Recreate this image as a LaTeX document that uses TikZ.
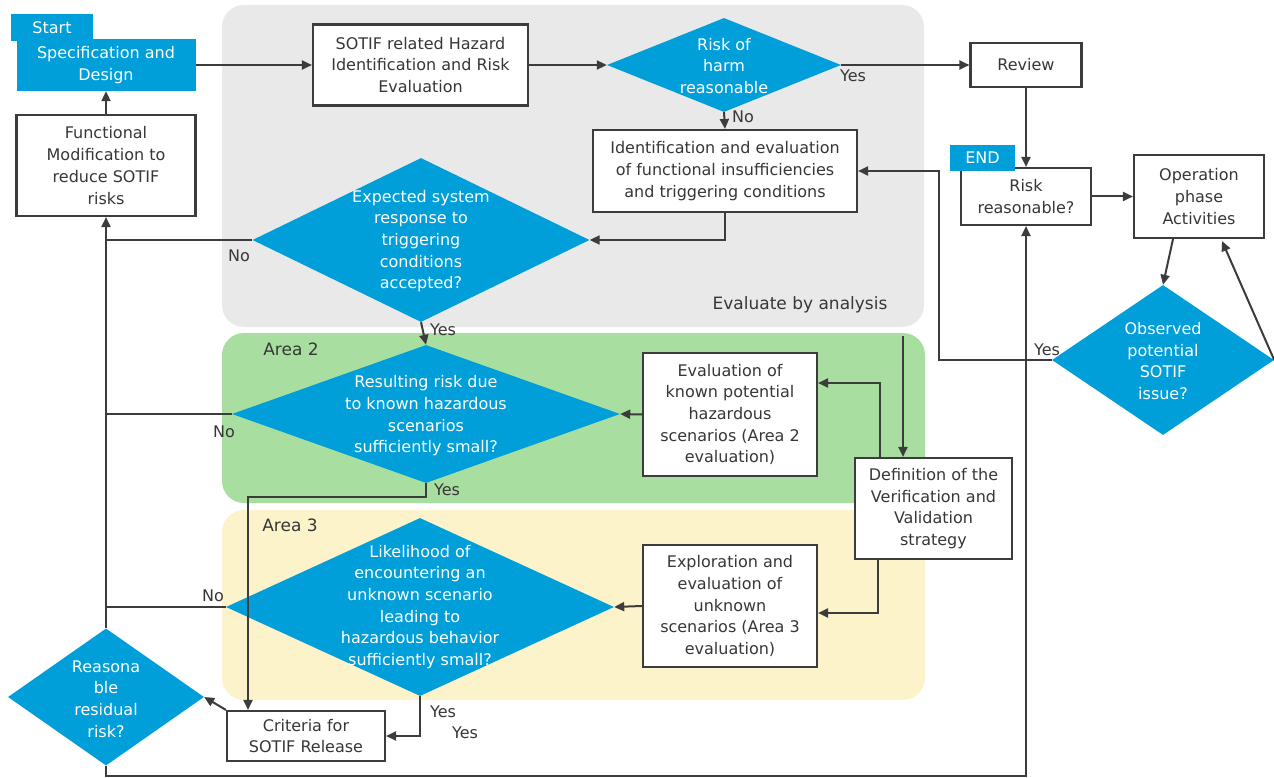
\documentclass[tikz,border=0pt]{standalone}
\usepackage{fontspec}
\setmainfont{DejaVu Sans}
\usetikzlibrary{shapes.geometric,arrows.meta,calc}
\definecolor{sblue}{RGB}{0,159,218}
\definecolor{grayreg}{RGB}{233,233,233}
\definecolor{greenreg}{RGB}{168,222,160}
\definecolor{yellowreg}{RGB}{253,243,203}
\definecolor{linec}{RGB}{60,60,60}
\definecolor{txt}{RGB}{55,55,55}
\newcommand{\bxfont}{\fontsize{16}{21.7}\selectfont}
\newcommand{\lblfont}{\fontsize{17}{21}\selectfont}
\begin{document}
\begin{tikzpicture}[x=1pt,y=-1pt,
 box/.style={draw=linec,line width=2.1pt,fill=white,text=txt,align=center,inner sep=0pt,font=\bxfont},
 bluebox/.style={fill=sblue,text=white,align=center,inner sep=0pt,font=\bxfont},
 dia/.style={diamond,fill=sblue,inner sep=0pt,draw=none},
 dtext/.style={text=white,align=center,font=\bxfont,inner sep=0pt},
 conn/.style={draw=linec,line width=2pt,-{Triangle[length=10pt,width=9pt]}},
 plain/.style={draw=linec,line width=2pt},
 yn/.style={text=txt,font=\bxfont,inner sep=0pt},
 region/.style={rounded corners=22pt},
 arealbl/.style={text=txt,font=\lblfont,inner sep=0pt}]
\useasboundingbox (0,0) rectangle (1274,778);
\fill[white] (0,0) rectangle (1274,778);
% regions
\fill[grayreg,region] (222,5) rectangle (924,327);
\fill[greenreg,region] (222,333) rectangle (925,503);
\fill[yellowreg,region] (222,510) rectangle (925,700);
\node[arealbl] (evalbl) at (800,305) {Evaluate by analysis};
\node[arealbl] (a2lbl) at (291,349) {Area 2};
\node[arealbl] (a3lbl) at (290,525) {Area 3};
% nodes
\node[bluebox,minimum width=82pt,minimum height=27pt] (start) at (52,27.5) {Start};
\node[bluebox,minimum width=179pt,minimum height=52pt] (spec) at (106,65) {Specification and\\Design};
\node[box,minimum width=179pt,minimum height=101pt] (funcmod) at (106,165.5) {Functional\\Modification to\\reduce SOTIF\\risks};
\node[box,minimum width=215pt,minimum height=81pt] (hazard) at (420.5,65) {SOTIF related Hazard\\Identification and Risk\\Evaluation};
\node[dia,minimum width=234pt,minimum height=94pt] (riskd) at (724,65) {};
\node[dtext] (riskdt) at (724,66) {Risk of\\harm\\reasonable};
\node[box,minimum width=111pt,minimum height=44pt] (review) at (1026,65) {Review};
\node[box,minimum width=264pt,minimum height=82pt] (ident) at (725,171) {Identification and evaluation\\of functional insufficiencies\\and triggering conditions};
\node[dia,minimum width=337pt,minimum height=164pt] (expd) at (421,240) {};
\node[dtext] (expdt) at (421,241) {Expected system\\response to\\triggering\\conditions\\accepted?};
\node[dia,minimum width=388pt,minimum height=138pt] (area2d) at (426,414) {};
\node[dtext] (area2dt) at (426,416) {Resulting risk due\\to known hazardous\\scenarios\\sufficiently small?};
\node[box,minimum width=174pt,minimum height=123pt] (evalk) at (730,414.5) {Evaluation of\\known potential\\hazardous\\scenarios (Area 2\\evaluation)};
\node[box,minimum width=157pt,minimum height=101pt] (defvv) at (933.5,508.5) {Definition of the\\Verification and\\Validation\\strategy};
\node[dia,minimum width=388pt,minimum height=178pt] (area3d) at (420,607) {};
\node[dtext] (area3dt) at (420,607) {Likelihood of\\encountering an\\unknown scenario\\leading to\\hazardous behavior\\sufficiently small?};
\node[box,minimum width=174pt,minimum height=122pt] (explore) at (730,606) {Exploration and\\evaluation of\\unknown\\scenarios (Area 3\\evaluation)};
\node[box,minimum width=158pt,minimum height=50pt] (criteria) at (306,736) {Criteria for\\SOTIF Release};
\node[dia,minimum width=196pt,minimum height=137pt] (resd) at (106,697) {};
\node[dtext] (resdt) at (106,699) {Reasona\\ble\\residual\\risk?};
\node[box,minimum width=130pt,minimum height=57pt] (riskr) at (1026,196.5) {Risk\\reasonable?};
\node[bluebox,minimum width=65pt,minimum height=26pt] (endtab) at (982.5,158) {END};
\node[box,minimum width=130pt,minimum height=83pt] (oper) at (1199,196.5) {Operation\\phase\\Activities};
\node[dia,minimum width=222pt,minimum height=150pt] (obsd) at (1163,360) {};
\node[dtext] (obsdt) at (1163,361) {Observed\\potential\\SOTIF\\issue?};
% connectors
\draw[conn] (spec.east) -- (hazard.west);
\draw[conn] (hazard.east) -- (riskd.west);
\draw[conn] (riskd.east) -- (review.west);
\draw[conn] (riskd.south) -- (ident.north);
\draw[conn] (review.south) -- (riskr.north);
\draw[conn] (riskr.east) -- (oper.west);
\draw[conn] ([xshift=-26pt]oper.south) -- (obsd.north);
\draw[conn] (obsd.east) -- ([xshift=23pt,yshift=-2pt]oper.south);
\draw[conn] (obsd.west) -- (939,360) |- (ident.east);
\draw[conn] (ident.south) |- (expd.east);
\draw[plain] (expd.west) -- (expd.west -| funcmod.south);
\draw[conn] (resd.north) -- (funcmod.south);
\draw[conn] (funcmod.north) -- (spec.south);
\draw[conn] (expd.south) -- (area2d.north);
\draw[plain] (area2d.west) -- (area2d.west -| resd.north);
\draw[conn] (evalk.west) -- (area2d.east);
\coordinate (vtop) at (903,336);
\draw[conn] (vtop) -- (vtop |- defvv.north);
\draw[conn] ([xshift=-53.5pt]defvv.north) |- ([yshift=31.5pt]evalk.east);
\draw[conn] ([xshift=-55.5pt]defvv.south) |- ([yshift=-7pt]explore.east);
\draw[conn] (explore.west) -- (area3d.east);
\draw[plain] (area3d.west) -- (area3d.west -| resd.north);
\draw[conn] (area2d.south) -- ++(0,14) -| ([xshift=-58pt]criteria.north);
\draw[conn] (area3d.south) |- (criteria.east);
\draw[conn] (criteria.north west) -- (resd.east);
\draw[conn] (resd.south) -- (106,776) -| (riskr.south);
% yes/no labels
\node[yn] (y1) at (853,76) {Yes};
\node[yn] (n1) at (743,117) {No};
\node[yn] (n2) at (239,256) {No};
\node[yn] (y2) at (443,330) {Yes};
\node[yn] (n3) at (224,432) {No};
\node[yn] (y3) at (447,490) {Yes};
\node[yn] (n4) at (213,596) {No};
\node[yn] (y4) at (443,712) {Yes};
\node[yn] (y5) at (465,733) {Yes};
\node[yn] (y6) at (1047,350) {Yes};
\end{tikzpicture}
\end{document}
